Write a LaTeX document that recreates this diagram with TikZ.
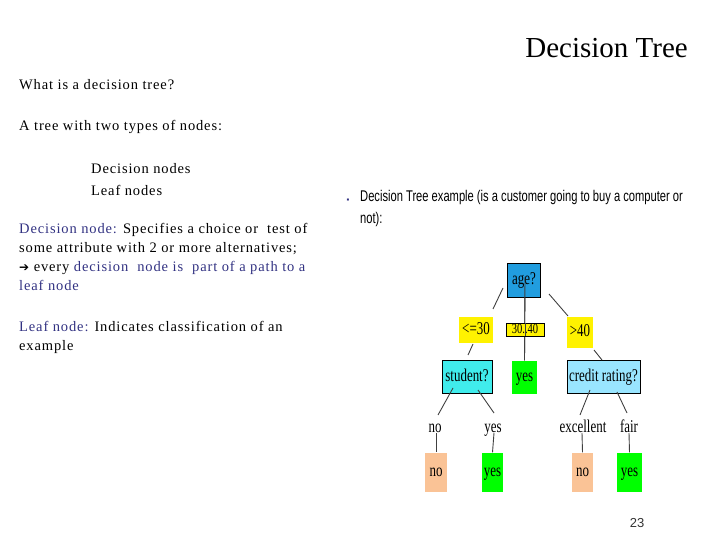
\documentclass[tikz,border=0pt]{standalone}
\usepackage{fontspec}
\setmainfont{Liberation Serif}
\newfontfamily\bodyf[LetterSpace=6]{Liberation Serif}
\newfontfamily\arialf{Liberation Sans}
\newfontfamily\dejavu{DejaVu Sans}
\begin{document}
\begin{tikzpicture}[x=1pt,y=-1pt,
  txt/.style={anchor=west,inner sep=0pt,font=\bodyf\fontsize{14.5}{19}\selectfont},
  tn/.style={inner sep=0pt,text height=12pt,text depth=3pt,font=\fontsize{18}{18}\selectfont},
  box/.style={tn,draw,line width=0.8pt},
  yel/.style={tn,fill=yellow},
  leaf/.style={tn},
  lbl/.style={tn},
  edge/.style={draw=black!75,line width=0.9pt}]
\useasboundingbox (0,0) rectangle (720,540);
\definecolor{dn}{RGB}{50,50,130}
\node[anchor=east,inner sep=0pt,font=\fontsize{29}{29}\selectfont] (title) at (688,48) {Decision Tree};
\node[txt] (t1) at (19,85) {What is a decision tree?};
\node[txt] (t2) at (19,127) {A tree with two types of nodes:};
\node[txt] (t3) at (91,169) {Decision nodes};
\node[txt] (t4) at (91,190) {Leaf nodes};
\node[txt,align=left,anchor=north west] (t5) at (19,223) {\textcolor{dn}{Decision node:} Specifies a choice or\ \ test of\\some attribute with 2 or more alternatives;\\{\dejavu\fontsize{12}{12}\selectfont ➔} every \textcolor{dn}{decision\ \ node is\ \ part of a path to a}\\\textcolor{dn}{leaf node}};
\node[txt,align=left,anchor=north west] (t6) at (19,321) {\textcolor{dn}{Leaf node:} Indicates classification of an\\example};
\node[inner sep=0pt,font=\fontsize{8}{8}\selectfont,text=dn] (bul) at (348,201) {▪};
\node[anchor=north west,inner sep=0pt,align=left,font=\arialf\fontsize{15.5}{22}\selectfont] (ex) at (360,190) {\scalebox{0.72}[1]{Decision Tree example (is a customer going to buy a computer or}\\\scalebox{0.72}[1]{not):}};
% tree
\coordinate (ac) at (525,277);
\node[leaf,fill=green,minimum width=25pt,minimum height=33pt] (ym) at (524.5,377) {\scalebox{0.72}[1]{yes}};
\draw[edge] (ac) -- (ym.north);
\node[box,fill=cyan!80!blue!90,minimum width=33pt,minimum height=34pt] (age) at (524,280) {\scalebox{0.72}[1]{age?}};
\draw[edge] (ac) -- (ym.north);
\node[yel,minimum width=34pt,minimum height=26pt] (l30) at (476,330) {\scalebox{0.72}[1]{<=30}};
\node[yel,draw,line width=0.8pt,minimum width=38pt,minimum height=13pt,text height=9pt,text depth=2pt,font=\fontsize{14}{14}\selectfont] (m30) at (525,329.5) {\scalebox{0.75}[1]{30..40}};
\node[yel,minimum width=26pt,minimum height=31pt] (g40) at (580,332) {\scalebox{0.72}[1]{>40}};
\node[box,fill=teal!20!cyan!75,minimum width=50pt,minimum height=33pt] (stu) at (467,377) {\scalebox{0.72}[1]{student?}};
\node[box,fill=blue!25!cyan!40,minimum width=73pt,minimum height=33pt] (cr) at (603.5,377) {\scalebox{0.72}[1]{credit rating?}};
\node[lbl] (lno) at (435,428) {\scalebox{0.72}[1]{no}};
\node[lbl] (lyes) at (493,428) {\scalebox{0.72}[1]{yes}};
\node[lbl] (lex) at (583,428) {\scalebox{0.72}[1]{excellent}};
\node[lbl] (lfa) at (629,428) {\scalebox{0.72}[1]{fair}};
\definecolor{peach}{RGB}{250,195,150}
\node[leaf,fill=peach,minimum width=22pt,minimum height=39pt] (n1) at (436,472) {\scalebox{0.72}[1]{no}};
\node[leaf,fill=green,minimum width=21pt,minimum height=39pt] (y1) at (492.5,472) {\scalebox{0.72}[1]{yes}};
\node[leaf,fill=peach,minimum width=21pt,minimum height=39pt] (n2) at (582.5,472) {\scalebox{0.72}[1]{no}};
\node[leaf,fill=green,minimum width=25pt,minimum height=39pt] (y2) at (629.5,472) {\scalebox{0.72}[1]{yes}};
\coordinate (a1) at (503,288); \coordinate (a2) at (493,309);
\coordinate (b1) at (549,294); \coordinate (b2) at (568,316);
\coordinate (c1) at (594,350); \coordinate (c2) at (602,360);
\coordinate (d1) at (473,344); \coordinate (d2) at (468,355);
\coordinate (e1) at (453,388); \coordinate (e2) at (438,415);
\coordinate (f1) at (478,390); \coordinate (f2) at (494,413);
\coordinate (g1) at (590,390); \coordinate (g2) at (580,415);
\coordinate (h1) at (617,392); \coordinate (h2) at (627,413);
\draw[edge] (a1)--(a2); \draw[edge] (b1)--(b2); \draw[edge] (c1)--(c2);
\draw[edge] (d1)--(d2); \draw[edge] (e1)--(e2); \draw[edge] (f1)--(f2);
\draw[edge] (g1)--(g2); \draw[edge] (h1)--(h2);
\coordinate (m1) at (525,323); \coordinate (m2) at (525,336);
\draw[edge] (m1)--(m2);
\coordinate (p1) at (436,433); \coordinate (p2) at (494,433);
\coordinate (p3) at (582,433); \coordinate (p4) at (629,433);
\draw[edge] (p1) -- (n1.north);
\draw[edge] (p2) -- (y1.north);
\draw[edge] (p3) -- (n2.north);
\draw[edge] (p4) -- (y2.north);
\node[inner sep=0pt,font=\arialf\fontsize{13}{13}\selectfont,text=black!80] (pg) at (637,523) {23};
\end{tikzpicture}
\end{document}
